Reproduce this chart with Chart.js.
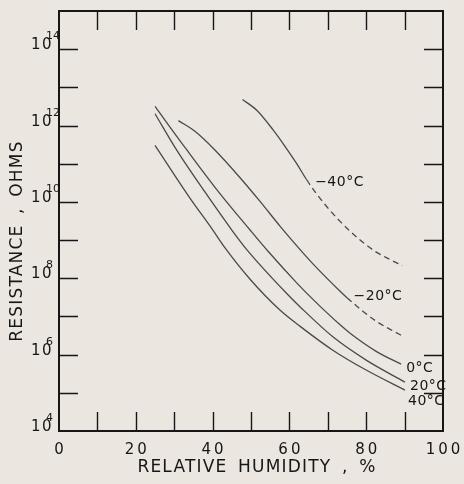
<!DOCTYPE html>
<html>
<head>
<meta charset="utf-8">
<script src="https://cdn.jsdelivr.net/npm/chart.js@4"></script>
<style>
  html, body { margin: 0; padding: 0; background: #ebe6df; }
  #wrap { width: 464px; height: 484px; }
</style>
</head>
<body>
<div id="wrap"><canvas id="myChart" width="464" height="484"></canvas></div>
<script>
// relative humidity (%) and log10 of resistance (ohms) for each temperature
var rhM40 = [47.8, 51.5, 55.8, 58.4, 61.9, 64.5, 66.7, 69.7, 73.2, 77.5, 81.8, 86.2, 89.4];
var lgM40 = [12.68, 12.40, 11.88, 11.52, 11.00, 10.58, 10.26, 9.88, 9.49, 9.08, 8.74, 8.49, 8.33];

var rhM20 = [31.1, 35.4, 40.6, 47.1, 52.3, 57.6, 60.2, 66.2, 73.2, 75.0, 82.4, 85.9, 89.8];
var lgM20 = [12.13, 11.85, 11.36, 10.64, 10.02, 9.36, 9.05, 8.37, 7.66, 7.49, 6.89, 6.68, 6.47];

var rh0 = [25.0, 33.3, 41.5, 49.7, 54.5, 61.9, 66.2, 73.2, 75.8, 82.7, 89.1];
var lg0 = [12.50, 11.36, 10.27, 9.27, 8.70, 7.88, 7.44, 6.78, 6.56, 6.08, 5.75];

var rh20 = [25.0, 30.7, 38.0, 45.1, 48.9, 59.3, 62.8, 71.4, 80.1, 90.1];
var lg20 = [12.31, 11.35, 10.26, 9.25, 8.75, 7.60, 7.25, 6.46, 5.85, 5.28];

var rh40 = [25.0, 34.1, 39.8, 43.2, 49.7, 57.6, 62.8, 71.4, 80.1, 90.1];
var lg40 = [11.48, 10.10, 9.30, 8.80, 7.98, 7.16, 6.74, 6.11, 5.59, 5.07];

// beyond these humidities the curve is only extrapolated (dashed)
var dashFrom = { '-40': 64.5, '-20': 75.0 };

var xTickLabels = [0, 20, 40, 60, 80, 100];
var xMinorTicks = [10, 20, 30, 40, 50, 60, 70, 80, 90];
var yDecadeLabels = [4, 6, 8, 10, 12, 14];
var yMinorDecades = [5, 6, 7, 8, 9, 10, 11, 12, 13, 14];

var curveNames = ['\u221240\u00b0C', '\u221220\u00b0C', '0\u00b0C', '20\u00b0C', '40\u00b0C'];
var curveLabelRh = [66.7, 76.7, 90.4, 91.4, 90.9];
var curveLabelLg = [10.41, 7.42, 5.54, 5.07, 4.67];

function points(rh, lg) {
    return rh.map(function (v, i) { return { x: v, y: Math.pow(10, lg[i]) }; });
}

function curve(rh, lg, key) {
    var from = dashFrom[key];
    return {
        data: points(rh, lg),
        borderColor: '#4a4a4a',
        borderWidth: 1.3,
        pointRadius: 0,
        fill: false,
        cubicInterpolationMode: 'monotone',
        segment: {
            borderDash: function (ctx) {
                return (from !== undefined && ctx.p0.parsed.x >= from) ? [6, 4] : undefined;
            }
        }
    };
}

var INK = '#161616';

var framePlugin = {
    id: 'frame',
    beforeDraw: function (chart) {
        var ctx = chart.ctx;
        ctx.save();
        ctx.fillStyle = '#ebe6df';
        ctx.fillRect(0, 0, chart.width, chart.height);
        ctx.restore();
    },
    afterDraw: function (chart) {
        var ctx = chart.ctx, a = chart.chartArea;
        var x = chart.scales.x, y = chart.scales.y;
        var tickLen = 19;
        ctx.save();
        ctx.strokeStyle = INK;
        ctx.fillStyle = INK;

        // box
        ctx.lineWidth = 2;
        ctx.strokeRect(a.left, a.top, a.right - a.left, a.bottom - a.top);

        // inward ticks on all four sides
        ctx.lineWidth = 1.4;
        ctx.beginPath();
        xMinorTicks.forEach(function (v) {
            var px = Math.round(x.getPixelForValue(v)) + 0.5;
            ctx.moveTo(px, a.bottom); ctx.lineTo(px, a.bottom - tickLen);
            ctx.moveTo(px, a.top); ctx.lineTo(px, a.top + tickLen);
        });
        yMinorDecades.forEach(function (d) {
            var py = Math.round(y.getPixelForValue(Math.pow(10, d))) + 0.5;
            ctx.moveTo(a.left, py); ctx.lineTo(a.left + tickLen, py);
            ctx.moveTo(a.right, py); ctx.lineTo(a.right - tickLen, py);
        });
        ctx.stroke();

        // x tick labels
        ctx.font = '15px "DejaVu Sans"';
        ctx.letterSpacing = '3px';
        ctx.textAlign = 'center';
        ctx.textBaseline = 'alphabetic';
        xTickLabels.forEach(function (v) {
            ctx.fillText(String(v), x.getPixelForValue(v) + 1.5, a.bottom + 23);
        });

        // y tick labels: 10 with a raised exponent
        ctx.textAlign = 'left';
        yDecadeLabels.forEach(function (d) {
            var py = y.getPixelForValue(Math.pow(10, d));
            ctx.font = '15px "DejaVu Sans"';
            ctx.letterSpacing = '1.5px';
            ctx.fillText('10', 31, py);
            ctx.font = '11px "DejaVu Sans"';
            ctx.letterSpacing = '0px';
            ctx.fillText(String(d), 46, py - 10);
        });

        // axis titles
        ctx.font = '17px "DejaVu Sans"';
        ctx.letterSpacing = '1.2px';
        ctx.wordSpacing = '4px';
        ctx.textAlign = 'center';
        ctx.fillText('RELATIVE HUMIDITY , %', 257, 472);

        ctx.save();
        ctx.translate(22, 241);
        ctx.rotate(-Math.PI / 2);
        ctx.fillText('RESISTANCE , OHMS', 0, 0);
        ctx.restore();

        // curve labels
        ctx.font = '14px "DejaVu Sans"';
        ctx.letterSpacing = '0.5px';
        ctx.wordSpacing = '0px';
        ctx.textAlign = 'left';
        curveNames.forEach(function (name, i) {
            ctx.fillText(name, x.getPixelForValue(curveLabelRh[i]),
                y.getPixelForValue(Math.pow(10, curveLabelLg[i])));
        });

        ctx.restore();
    }
};

var myChart = new Chart(document.getElementById('myChart'), {
    type: 'line',
    data: {
        datasets: [
            curve(rhM40, lgM40, '-40'),
            curve(rhM20, lgM20, '-20'),
            curve(rh0, lg0, '0'),
            curve(rh20, lg20, '20'),
            curve(rh40, lg40, '40')
        ]
    },
    options: {
        responsive: false,
        animation: false,
        layout: { padding: { left: 59, right: 21, top: 11, bottom: 53 } },
        plugins: { legend: { display: false }, tooltip: { enabled: false } },
        scales: {
            x: { type: 'linear', min: 0, max: 100, display: false },
            y: { type: 'logarithmic', min: 1e4, max: 1e15, display: false }
        }
    },
    plugins: [framePlugin]
});
</script>
</body>
</html>
